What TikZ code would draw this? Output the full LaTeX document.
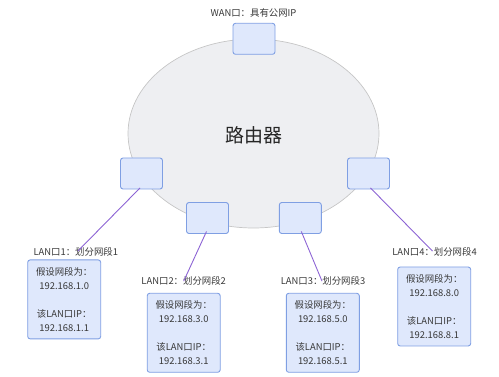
\documentclass[tikz,border=0pt]{standalone}
\usepackage{fontspec}
\usetikzlibrary{shapes.geometric}
\setmainfont{Noto Sans CJK SC}
\definecolor{boxfill}{HTML}{DFE8FC}
\definecolor{boxdraw}{HTML}{7F9FE3}
\definecolor{linkcol}{HTML}{8C63D4}
\definecolor{ellfill}{HTML}{EEEFF2}
\definecolor{elldraw}{HTML}{C6C6C6}
\definecolor{txt}{HTML}{383838}
\begin{document}
\begin{tikzpicture}[x=1pt,y=-1pt,
  port/.style={draw=boxdraw,fill=boxfill,line width=0.9pt,rounded corners=2.5pt,minimum width=42pt,minimum height=31pt,inner sep=0pt},
  infobox/.style={draw=boxdraw,fill=boxfill,line width=0.9pt,rounded corners=2.5pt,minimum width=73pt,minimum height=79pt,inner sep=0pt,align=center,text=txt,font=\fontsize{9.4}{14}\selectfont},
  lbl/.style={text=txt,font=\fontsize{9.4}{11}\selectfont,inner sep=0pt},
  link/.style={draw=linkcol,line width=0.9pt}]
\useasboundingbox (0,0) rectangle (499,377);
\node[ellipse,draw=elldraw,fill=ellfill,line width=0.7pt,minimum width=251pt,minimum height=189pt,inner sep=0pt] (ell) at (253.5,133.5) {};
\node[text=black!85,font=\fontsize{19}{22}\selectfont] (title) at (253.5,135) {路由器};
\node[lbl] (wl) at (253.5,13) {WAN口：具有公网IP};
\node[port] (wan) at (254,38.8) {};
\node[port] (p1) at (141.5,173.5) {};
\node[port] (p4) at (368.5,173.5) {};
\node[port] (p2) at (207.5,218) {};
\node[port] (p3) at (300.3,218) {};
\node[lbl] (l1) at (75.8,251.7) {LAN口1：划分网段1};
\node[lbl] (l2) at (183.7,280.7) {LAN口2：划分网段2};
\node[lbl] (l3) at (323,280.7) {LAN口3：划分网段3};
\node[lbl] (l4) at (434.5,251.7) {LAN口4：划分网段4};
\node[infobox] (b1) at (64.2,299.4) {假设网段为：\\192.168.1.0\\[14pt]该LAN口IP：\\192.168.1.1};
\node[infobox] (b2) at (183.7,332.8) {假设网段为：\\192.168.3.0\\[14pt]该LAN口IP：\\192.168.3.1};
\node[infobox] (b3) at (322.8,332.8) {假设网段为：\\192.168.5.0\\[14pt]该LAN口IP：\\192.168.5.1};
\node[infobox] (b4) at (434.2,306.5) {假设网段为：\\192.168.8.0\\[14pt]该LAN口IP：\\192.168.8.1};
\draw[link] ([xshift=-1.5pt,yshift=1.5pt]p1.south) -- ([xshift=2pt,yshift=-4pt]l1.north);
\draw[link] ([xshift=-1pt,yshift=2.5pt]p2.south) -- ([yshift=-5pt]l2.north);
\draw[link] ([xshift=1pt,yshift=2.5pt]p3.south) -- ([xshift=-1pt,yshift=-5pt]l3.north);
\draw[link] ([xshift=2pt,yshift=1.5pt]p4.south) -- ([xshift=-2pt,yshift=-4pt]l4.north);
\end{tikzpicture}
\end{document}
